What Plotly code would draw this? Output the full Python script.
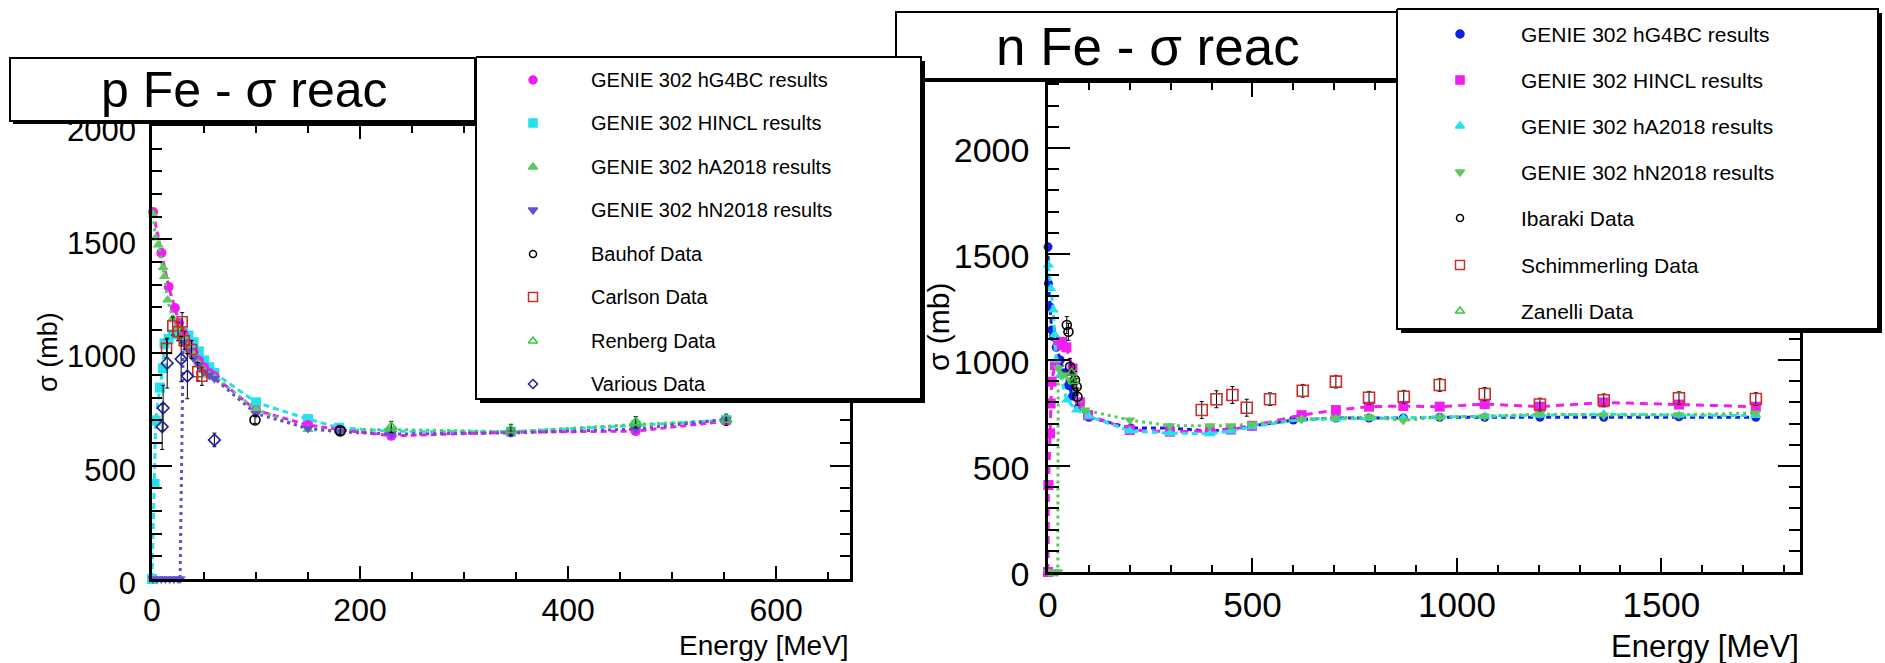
import plotly.graph_objects as go

W, H = 1885, 663
FONT = "Liberation Sans, Arial, Helvetica, sans-serif"

# ---------------- p + Fe : reaction cross section (E in MeV, sigma in mb) ----------------
p_hg4bc_E = [1, 9, 16, 22, 26, 30, 35, 40, 45, 50, 55, 60, 100, 150, 180, 230, 345, 465, 552]
p_hg4bc_S = [1620, 1440, 1290, 1196, 1130, 1085, 1040, 1000, 965, 935, 910, 895, 745, 680, 660, 632, 648, 653, 697]

p_hincl_E = [0, 2.5, 3.5, 7.5, 10.5, 12, 16, 20, 25, 30, 35, 40, 45, 50, 55, 60, 100, 150, 180, 230, 345, 465, 552]
p_hincl_S = [0, 420, 700, 845, 930, 1040, 1060, 1080, 1090, 1090, 1075, 1045, 1005, 965, 935, 910, 780, 706, 668, 652, 650, 678, 702]

p_ha_E = [1, 3.5, 6, 10.7, 12, 15, 20, 25, 30, 35, 40, 45, 50, 55, 60, 100, 150, 180, 230, 345, 465, 552]
p_ha_S = [1610, 1505, 1475, 1375, 1335, 1232, 1150, 1110, 1070, 1030, 990, 950, 920, 900, 890, 750, 660, 655, 660, 650, 682, 700]

p_hn_E = [1, 5, 9, 13, 17, 21, 25, 27, 30, 35, 40, 45, 50, 55, 60, 100, 150, 180, 230, 345, 465, 552]
p_hn_S = [0, 0, 0, 0, 0, 0, 0, 0, 1045, 1010, 975, 945, 915, 900, 885, 730, 665, 650, 640, 645, 662, 705]

p_bauhof_E = [99, 181]
p_bauhof_S = [702, 654]
p_bauhof_err = [15, 15]

p_carlson_E = [14, 20, 25, 29, 31, 38, 44, 48]
p_carlson_S = [1018, 1117, 1092, 1136, 1052, 1013, 915, 895]
p_carlson_err = [40, 40, 40, 40, 40, 40, 40, 40]

p_renberg_E = [230, 345, 465, 552]
p_renberg_S = [671, 658, 692, 703]
p_renberg_err = [25, 25, 25, 25]

p_various_E = [9.8, 10.7, 14.6, 28, 34, 60]
p_various_S = [672, 755, 953, 971, 896, 614]
p_various_err = [100, 100, 110, 100, 100, 30]

# ---------------- n + Fe : reaction cross section ----------------
n_hg4bc_E = [0, 1, 5, 9, 13, 20, 30, 40, 50, 60, 75, 100, 203, 298, 396, 447, 499, 600, 704, 785, 869, 958, 1068, 1203, 1359, 1543, 1731]
n_hg4bc_S = [1534, 1362, 1251, 1142, 1110, 1060, 1000, 940, 880, 830, 780, 730, 679, 679, 665, 674, 689, 717, 726, 726, 727, 730, 730, 730, 730, 732, 730]

n_hincl_E = [0, 1, 5, 6.5, 9, 17, 25, 35, 45, 60, 78, 98, 200, 298, 396, 447, 499, 620, 704, 785, 869, 958, 1068, 1203, 1359, 1543, 1731]
n_hincl_S = [0, 410, 654, 795, 898, 976, 1070, 1085, 1060, 960, 800, 740, 670, 662, 665, 672, 690, 740, 764, 780, 783, 780, 792, 780, 800, 790, 780]

n_ha_E = [1, 6.5, 13, 16, 20, 30, 46, 70, 100, 200, 298, 396, 447, 499, 620, 704, 787, 869, 958, 1068, 1203, 1359, 1543, 1731]
n_ha_S = [1448, 1338, 1236, 1120, 1000, 930, 811, 764, 735, 665, 655, 652, 665, 685, 720, 722, 725, 728, 730, 735, 740, 745, 740, 738]

n_hn_E = [1, 5, 10, 15, 20, 24, 25, 37, 54, 90, 200, 298, 396, 447, 499, 620, 704, 785, 869, 958, 1068, 1203, 1359, 1543, 1731]
n_hn_S = [0, 0, 0, 0, 0, 0, 961, 929, 906, 764, 717, 690, 690, 690, 698, 720, 728, 731, 715, 731, 735, 745, 740, 742, 750]

n_ibaraki_E = [46, 50, 54, 66, 70, 72]
n_ibaraki_S = [1165, 1133, 968, 906, 874, 827]
n_ibaraki_err = [40, 40, 40, 40, 40, 40]

n_schim_E = [376, 412, 451, 486, 543, 623, 704, 785, 870, 958, 1068, 1203, 1359, 1543, 1731]
n_schim_S = [764, 815, 835, 775, 815, 855, 898, 822, 827, 882, 840, 790, 810, 820, 816]
n_schim_err = [40, 40, 40, 40, 30, 30, 30, 30, 30, 30, 30, 30, 30, 30, 30]

n_zanelli_E = [58, 62]
n_zanelli_S = [940, 900]
n_zanelli_err = [40, 40]

p_labels = ["GENIE 302 hG4BC results", "GENIE 302 HINCL results", "GENIE 302 hA2018 results",
            "GENIE 302 hN2018 results", "Bauhof Data", "Carlson Data", "Renberg Data", "Various Data"]
n_labels = ["GENIE 302 hG4BC results", "GENIE 302 HINCL results", "GENIE 302 hA2018 results",
            "GENIE 302 hN2018 results", "Ibaraki Data", "Schimmerling Data", "Zanelli Data"]

MAG, CYAN, GREEN, SLATE = "#f01ef0", "#22e2ec", "#5cc95c", "#6250d2"
BLUE, BLACK, RED, LGREEN, NAVY = "#1020e6", "#000000", "#cc2e2a", "#36c836", "#1c1c9c"

fig = go.Figure()


def model(E, S, color, symbol, size, dash, xa, ya):
    fig.add_trace(go.Scatter(
        x=E, y=S, mode="lines+markers", xaxis=xa, yaxis=ya, cliponaxis=False,
        line=dict(color=color, width=3, dash=dash),
        marker=dict(color=color, symbol=symbol, size=size, line=dict(width=0)),
        showlegend=False, hoverinfo="skip"))


def data(E, S, err, color, symbol, size, xa, ya):
    fig.add_trace(go.Scatter(
        x=E, y=S, mode="markers", xaxis=xa, yaxis=ya, cliponaxis=False,
        error_y=dict(type="data", array=err, color="black", thickness=1, width=2),
        marker=dict(color=color, symbol=symbol, size=size, line=dict(color=color, width=1.6)),
        showlegend=False, hoverinfo="skip"))


# left panel
model(p_hincl_E, p_hincl_S, CYAN, "square", 10, "6px,4px", "x", "y")
model(p_hg4bc_E, p_hg4bc_S, MAG, "circle", 10, "6px,4px", "x", "y")
model(p_ha_E, p_ha_S, GREEN, "triangle-up", 10, "3px,4px", "x", "y")
model(p_hn_E, p_hn_S, SLATE, "triangle-down", 10, "3px,4px", "x", "y")
data(p_bauhof_E, p_bauhof_S, p_bauhof_err, BLACK, "circle-open", 10, "x", "y")
data(p_carlson_E, p_carlson_S, p_carlson_err, RED, "square-open", 10, "x", "y")
data(p_renberg_E, p_renberg_S, p_renberg_err, LGREEN, "triangle-up-open", 10, "x", "y")
data(p_various_E, p_various_S, p_various_err, NAVY, "diamond-open", 9, "x", "y")

# right panel
model(n_hg4bc_E, n_hg4bc_S, BLUE, "circle", 9, "5px,4px", "x2", "y2")
model(n_hincl_E, n_hincl_S, MAG, "square", 10, "8px,6px", "x2", "y2")
model(n_ha_E, n_ha_S, CYAN, "triangle-up", 10, "6px,4px", "x2", "y2")
model(n_hn_E, n_hn_S, GREEN, "triangle-down", 10, "3px,4px", "x2", "y2")
data(n_ibaraki_E, n_ibaraki_S, n_ibaraki_err, BLACK, "circle-open", 9, "x2", "y2")
data(n_schim_E, n_schim_S, n_schim_err, RED, "square-open", 11, "x2", "y2")
data(n_zanelli_E, n_zanelli_S, n_zanelli_err, LGREEN, "triangle-up-open", 9, "x2", "y2")

shapes = []


def title_box(x0, y0, x1, y1, shadow=3):
    # title panes sit underneath the plots, so tick labels stay readable on top
    shapes.append(dict(type="rect", xref="x3", yref="y3", layer="below",
                       x0=x0 + shadow, x1=x1 + shadow, y0=y0 + shadow, y1=y1 + shadow,
                       fillcolor="black", line=dict(width=0)))
    shapes.append(dict(type="rect", xref="x3", yref="y3", layer="below",
                       x0=x0, x1=x1, y0=y0, y1=y1,
                       fillcolor="white", line=dict(color="black", width=2)))


def legend_box(x0, y0, x1, y1, shadow=4, lw=2):
    # legend panes are drawn over the plots on the pixel-space overlay
    fig.add_trace(go.Scatter(
        x=[x0 + shadow, x1 + shadow, x1 + shadow, x0 + shadow, x0 + shadow],
        y=[y0 + shadow, y0 + shadow, y1 + shadow, y1 + shadow, y0 + shadow],
        mode="lines", fill="toself", fillcolor="black", line=dict(color="black", width=0),
        xaxis="x3", yaxis="y3", showlegend=False, hoverinfo="skip"))
    fig.add_trace(go.Scatter(
        x=[x0, x1, x1, x0, x0], y=[y0, y0, y1, y1, y0],
        mode="lines", fill="toself", fillcolor="white", line=dict(color="black", width=lw),
        xaxis="x3", yaxis="y3", showlegend=False, hoverinfo="skip"))


title_box(896, 12, 1397, 79)     # n Fe title
title_box(10, 58, 475, 121)      # p Fe title
legend_box(1397, 9, 1878, 329)   # n Fe legend
legend_box(476, 57, 921, 399)    # p Fe legend

p_leg_rows = [80, 123, 167, 210, 254, 297, 341, 384]
n_leg_rows = [34, 80, 126, 172, 218, 265, 311]

p_leg_style = [(MAG, "circle", 8), (CYAN, "square", 8), (GREEN, "triangle-up", 8), (SLATE, "triangle-down", 8),
               (BLACK, "circle-open", 7), (RED, "square-open", 9), (LGREEN, "triangle-up-open", 8),
               (NAVY, "diamond-open", 7)]
n_leg_style = [(BLUE, "circle", 8), (MAG, "square", 8), (CYAN, "triangle-up", 8), (GREEN, "triangle-down", 8),
               (BLACK, "circle-open", 7), (RED, "square-open", 9), (LGREEN, "triangle-up-open", 8)]

for rows, styles, mx in ((p_leg_rows, p_leg_style, 533), (n_leg_rows, n_leg_style, 1460)):
    for yy, (c, s, sz) in zip(rows, styles):
        fig.add_trace(go.Scatter(
            x=[mx], y=[yy], mode="markers", xaxis="x3", yaxis="y3",
            marker=dict(color=c, symbol=s, size=sz, line=dict(color=c, width=1.5)),
            showlegend=False, hoverinfo="skip"))

ann = []
ann.append(dict(text="p Fe - σ reac", x=244, y=90, font=dict(size=50)))
ann.append(dict(text="n Fe - σ reac", x=1148, y=46, font=dict(size=53)))
for t, yy in zip(p_labels, p_leg_rows):
    ann.append(dict(text=t, x=589, y=yy, xanchor="left", font=dict(size=20)))
for t, yy in zip(n_labels, n_leg_rows):
    ann.append(dict(text=t, x=1519, y=yy, xanchor="left", font=dict(size=21)))
ann.append(dict(text="Energy [MeV]", x=851, y=645, xanchor="right", font=dict(size=28)))
ann.append(dict(text="Energy [MeV]", x=1801, y=646, xanchor="right", font=dict(size=31)))
ann.append(dict(text="σ (mb)", x=48, y=352, textangle=-90, font=dict(size=27)))
ann.append(dict(text="σ (mb)", x=938, y=327, textangle=-90, font=dict(size=30)))

annotations = []
for a in ann:
    d = dict(xref="x3", yref="y3", showarrow=False, xanchor=a.get("xanchor", "center"),
             yanchor="middle", font=dict(family=FONT, color="black", size=a["font"]["size"]))
    d.update({k: v for k, v in a.items() if k not in ("font", "xanchor")})
    annotations.append(d)


def axis(domain, rng, dtick, minor, tlen, mlen, fsize, anchor, standoff, shift=0):
    return dict(domain=domain, range=rng, anchor=anchor, dtick=dtick, tick0=0,
                showline=True, linecolor="black", linewidth=2.5, mirror="allticks",
                ticks="inside", ticklen=tlen, tickwidth=2, tickcolor="black",
                minor=dict(dtick=minor, tick0=0, ticks="inside", ticklen=mlen, tickwidth=2, tickcolor="black"),
                showgrid=False, zeroline=False, fixedrange=True, automargin=False,
                tickfont=dict(family=FONT, size=fsize, color="black"),
                ticklabelstandoff=standoff, ticklabelshift=shift)


fig.update_layout(
    width=W, height=H, margin=dict(l=0, r=0, t=0, b=0, pad=0, autoexpand=False),
    paper_bgcolor="white", plot_bgcolor="rgba(0,0,0,0)", showlegend=False,
    xaxis=axis([152 / W, 850 / W], [0, 671], 200, 50, 13, 7, 32, "y", 1),
    yaxis=axis([1 - 579 / H, 1 - 126 / H], [0, 2000], 500, 100, 20, 10, 31, "x", 7, 4),
    xaxis2=axis([1048 / W, 1800 / W], [0, 1839], 500, 100, 14, 7, 35, "y2", 0),
    yaxis2=axis([1 - 572 / H, 1 - 83 / H], [0, 2307], 500, 100, 22, 11, 34, "x2", 9, 2),
    xaxis3=dict(domain=[0, 1], range=[0, W], anchor="y3", visible=False, fixedrange=True, automargin=False),
    yaxis3=dict(domain=[0, 1], range=[H, 0], anchor="x3", visible=False, fixedrange=True, automargin=False),
    shapes=shapes,
    annotations=annotations,
)

fig.write_html("out.html")
